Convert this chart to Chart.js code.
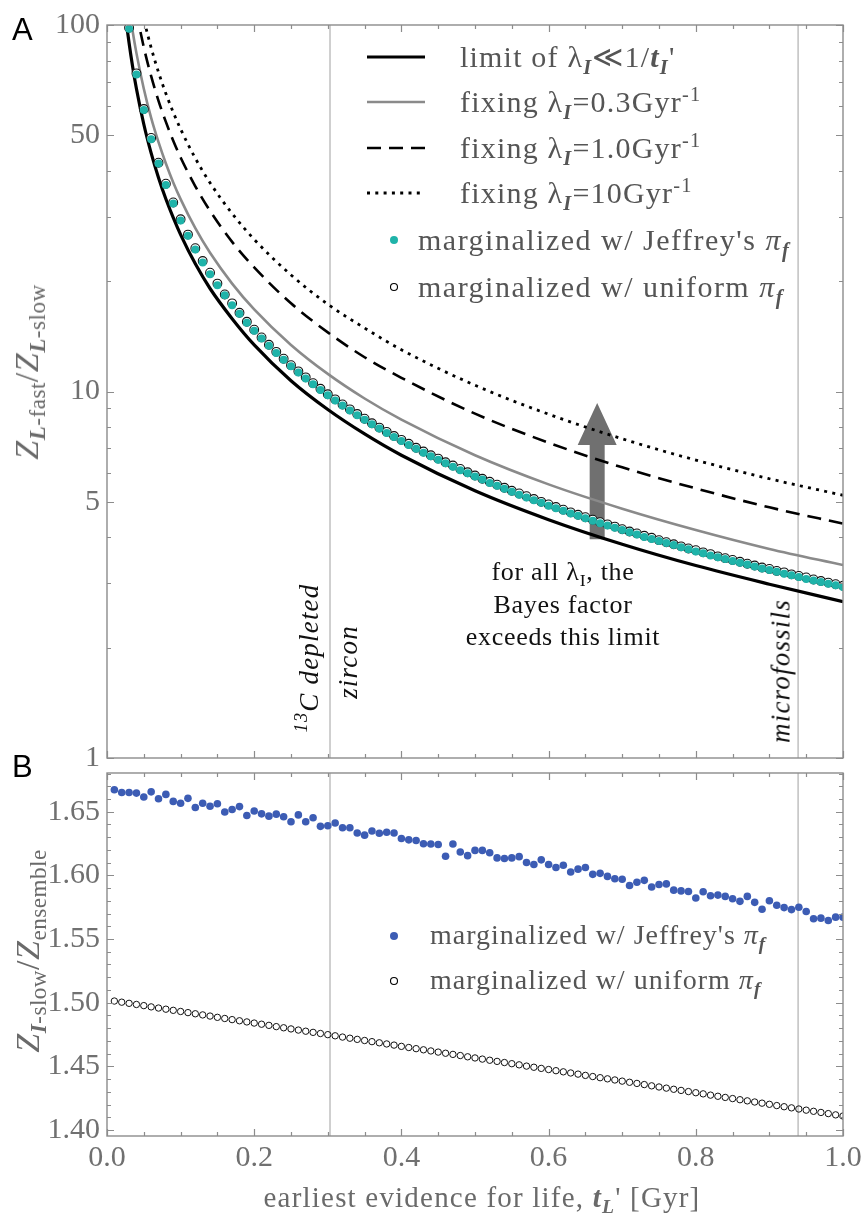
<!DOCTYPE html>
<html>
<head>
<meta charset="utf-8">
<script src="https://cdn.jsdelivr.net/npm/chart.js@4.4.1/dist/chart.umd.min.js"></script>
<style>
  body { margin: 0; background: #fff; }
  #page { position: relative; width: 863px; height: 1220px; overflow: hidden; font-family: "Liberation Serif", serif; }
  #topBox { position: absolute; left: 0; top: 0; width: 883px; height: 790px; }
  #botBox { position: absolute; left: 0; top: 748px; width: 883px; height: 472px; }
  .txt { position: absolute; white-space: nowrap; }
  .row { position: absolute; height: 34px; line-height: 34px; white-space: nowrap; }
  sub, sup { font-size: 0.68em; line-height: 0; }
  sub { vertical-align: -0.32em; }
  sup { vertical-align: 0.55em; }
  .bi { font-weight: bold; font-style: italic; }
  .panel { position: absolute; font-family: "Liberation Sans", sans-serif; font-size: 31px; color: #000; }
  .legend { font-size: 30px; letter-spacing: 1.2px; color: #555; }
  .vlabel { position: absolute; font-size: 27px; letter-spacing: 1.2px; font-style: italic; color: #111; white-space: nowrap; transform: translate(-50%, -50%) rotate(-90deg); }
  .ytitle { position: absolute; font-size: 34px; letter-spacing: 0.5px; color: #6a6a6a; white-space: nowrap; transform: translate(-50%, -50%) rotate(-90deg); }
</style>
</head>
<body>
<div id="page">
  <div id="topBox"><canvas id="topChart"></canvas></div>
  <div id="botBox"><canvas id="botChart"></canvas></div>

  <div class="panel" style="left:12px; top:12px;">A</div>
  <div class="panel" style="left:12px; top:749px;">B</div>

  <div class="ytitle" style="left:27px; top:372px;"><i>Z</i><sub><span class="bi">L</span>-fast</sub>/<i>Z</i><sub><span class="bi">L</span>-slow</sub></div>
  <div class="ytitle" style="left:28px; top:951px;"><i>Z</i><sub><span class="bi">I</span>-slow</sub>/<i>Z</i><sub>ensemble</sub></div>

  <!-- line legend, upper panel -->
  <div class="legend">
    <svg class="txt" style="left:366px; top:50px;" width="60" height="14"><line x1="1" y1="7" x2="59" y2="7" stroke="#000" stroke-width="3"/></svg>
    <svg class="txt" style="left:366px; top:95px;" width="60" height="14"><line x1="1" y1="7" x2="59" y2="7" stroke="#8a8a8a" stroke-width="2.6"/></svg>
    <svg class="txt" style="left:366px; top:141px;" width="60" height="14"><line x1="1" y1="7" x2="59" y2="7" stroke="#000" stroke-width="2.6" stroke-dasharray="14 8"/></svg>
    <svg class="txt" style="left:366px; top:186px;" width="60" height="14"><line x1="1" y1="7" x2="59" y2="7" stroke="#000" stroke-width="2.8" stroke-dasharray="3 5.3"/></svg>
    <div class="row" style="left:460px; top:40px;">limit of λ<sub><span class="bi">I</span></sub>≪1/<span class="bi">t</span><sub><span class="bi">I</span></sub>'</div>
    <div class="row" style="left:460px; top:85px;">fixing λ<sub><span class="bi">I</span></sub>=0.3Gyr<sup>-1</sup></div>
    <div class="row" style="left:460px; top:131px;">fixing λ<sub><span class="bi">I</span></sub>=1.0Gyr<sup>-1</sup></div>
    <div class="row" style="left:460px; top:176px;">fixing λ<sub><span class="bi">I</span></sub>=10Gyr<sup>-1</sup></div>
    <svg class="txt" style="left:387px; top:233px;" width="14" height="14"><circle cx="7" cy="7" r="4" fill="#1fb3a9"/></svg>
    <svg class="txt" style="left:387px; top:280px;" width="14" height="14"><circle cx="7" cy="7" r="3.5" fill="none" stroke="#000" stroke-width="1.1"/></svg>
    <div class="row" style="left:418px; top:223px; letter-spacing:1.5px;">marginalized w/ Jeffrey's <i>π<sub><b>f</b></sub></i></div>
    <div class="row" style="left:418px; top:270px; letter-spacing:1.5px;">marginalized w/ uniform <i>π<sub><b>f</b></sub></i></div>
  </div>

  <!-- point legend, lower panel -->
  <div class="legend" style="font-size:28px; letter-spacing:1px;">
    <svg class="txt" style="left:387px; top:929px;" width="14" height="14"><circle cx="7" cy="7" r="4" fill="#3c5cb4"/></svg>
    <svg class="txt" style="left:387px; top:974px;" width="14" height="14"><circle cx="7" cy="7" r="3.5" fill="none" stroke="#000" stroke-width="1.1"/></svg>
    <div class="row" style="left:430px; top:918px;">marginalized w/ Jeffrey's <i>π<sub><b>f</b></sub></i></div>
    <div class="row" style="left:430px; top:963px;">marginalized w/ uniform <i>π<sub><b>f</b></sub></i></div>
  </div>

  <div class="txt" style="left:563px; top:556px; transform:translateX(-50%); font-size:26px; letter-spacing:0.7px; line-height:32.5px; text-align:center; color:#111;">
    for all λ<sub>I</sub>, the<br>Bayes factor<br>exceeds this limit
  </div>

  <div class="vlabel" style="left:309px; top:658px;"><sup>13</sup>C depleted</div>
  <div class="vlabel" style="left:348px; top:662px;">zircon</div>
  <div class="vlabel" style="left:781px; top:671px;">microfossils</div>

  <div class="txt" style="left:482px; top:1197px; transform:translate(-50%, -50%); font-size:29px; letter-spacing:1.2px; color:#6a6a6a;">earliest evidence for life, <span class="bi">t<sub>L</sub></span>' [Gyr]</div>
</div>

<script>
// curves in the upper panel, sampled along t_L'
const tCurve = [0.02, 0.025, 0.03, 0.035, 0.04, 0.05, 0.06, 0.07, 0.08, 0.09, 0.1, 0.12, 0.14, 0.17, 0.2, 0.25, 0.3, 0.35, 0.4, 0.5, 0.6, 0.7, 0.8, 0.9, 1.0];
const limitCurve = [134, 107.2, 89.3, 76.6, 67.0, 53.6, 44.7, 38.3, 33.5, 29.8, 26.8, 22.3, 19.1, 15.8, 13.4, 10.7, 8.93, 7.66, 6.70, 5.36, 4.47, 3.83, 3.35, 2.98, 2.67];
const fix03Curve = [167.5, 134, 111.7, 95.7, 83.8, 67.0, 55.8, 47.9, 41.9, 37.2, 33.5, 27.9, 23.9, 19.7, 16.75, 13.4, 11.17, 9.57, 8.38, 6.70, 5.58, 4.79, 4.19, 3.72, 3.36];
const fix1Curve = [217.5, 174, 145, 124.3, 108.8, 87.0, 72.5, 62.1, 54.4, 48.3, 43.5, 36.3, 31.1, 25.6, 21.8, 17.4, 14.5, 12.4, 10.9, 8.70, 7.25, 6.21, 5.44, 4.83, 4.36];
const fix10Curve = [260, 208, 173, 148.6, 130, 104, 86.7, 74.3, 65.0, 57.8, 52.0, 43.3, 37.1, 30.6, 26.0, 20.8, 17.3, 14.9, 13.0, 10.4, 8.67, 7.43, 6.50, 5.78, 5.21];

// marginalized points, t_L' = 0.01 ... 1.00
const tEvidence = [
  0.01, 0.02, 0.03, 0.04, 0.05, 0.06, 0.07, 0.08, 0.09, 0.10,
  0.11, 0.12, 0.13, 0.14, 0.15, 0.16, 0.17, 0.18, 0.19, 0.20,
  0.21, 0.22, 0.23, 0.24, 0.25, 0.26, 0.27, 0.28, 0.29, 0.30,
  0.31, 0.32, 0.33, 0.34, 0.35, 0.36, 0.37, 0.38, 0.39, 0.40,
  0.41, 0.42, 0.43, 0.44, 0.45, 0.46, 0.47, 0.48, 0.49, 0.50,
  0.51, 0.52, 0.53, 0.54, 0.55, 0.56, 0.57, 0.58, 0.59, 0.60,
  0.61, 0.62, 0.63, 0.64, 0.65, 0.66, 0.67, 0.68, 0.69, 0.70,
  0.71, 0.72, 0.73, 0.74, 0.75, 0.76, 0.77, 0.78, 0.79, 0.80,
  0.81, 0.82, 0.83, 0.84, 0.85, 0.86, 0.87, 0.88, 0.89, 0.90,
  0.91, 0.92, 0.93, 0.94, 0.95, 0.96, 0.97, 0.98, 0.99, 1.00
];

// upper panel starts at t = 0.03
const jeffreysTop = [
  97.7, 73.3, 58.6, 48.8, 41.9, 36.6, 32.6, 29.3,
  26.6, 24.4, 22.5, 20.9, 19.5, 18.3, 17.2, 16.3, 15.4, 14.65,
  13.95, 13.32, 12.74, 12.21, 11.72, 11.27, 10.85, 10.46, 10.10, 9.77,
  9.45, 9.16, 8.88, 8.62, 8.37, 8.14, 7.92, 7.71, 7.51, 7.33,
  7.15, 6.98, 6.81, 6.66, 6.51, 6.37, 6.23, 6.10, 5.98, 5.86,
  5.75, 5.63, 5.53, 5.43, 5.33, 5.23, 5.14, 5.05, 4.97, 4.88,
  4.80, 4.73, 4.65, 4.58, 4.51, 4.44, 4.37, 4.31, 4.25, 4.19,
  4.13, 4.07, 4.01, 3.96, 3.91, 3.86, 3.81, 3.76, 3.71, 3.66,
  3.62, 3.57, 3.53, 3.49, 3.45, 3.41, 3.37, 3.33, 3.29, 3.26,
  3.22, 3.18, 3.15, 3.12, 3.08, 3.05, 3.02, 2.99, 2.96, 2.93
];
const uniformTop = [
  98.3, 73.8, 59.0, 49.2, 42.1, 36.9, 32.8, 29.5,
  26.8, 24.6, 22.7, 21.1, 19.7, 18.4, 17.4, 16.4, 15.5, 14.75,
  14.05, 13.41, 12.83, 12.29, 11.80, 11.35, 10.93, 10.54, 10.17, 9.83,
  9.52, 9.22, 8.94, 8.68, 8.43, 8.19, 7.97, 7.76, 7.56, 7.38,
  7.20, 7.02, 6.86, 6.70, 6.56, 6.41, 6.28, 6.15, 6.02, 5.90,
  5.78, 5.67, 5.57, 5.46, 5.36, 5.27, 5.18, 5.09, 5.00, 4.92,
  4.84, 4.76, 4.68, 4.61, 4.54, 4.47, 4.40, 4.34, 4.28, 4.21,
  4.15, 4.10, 4.04, 3.99, 3.93, 3.88, 3.83, 3.78, 3.73, 3.69,
  3.64, 3.60, 3.55, 3.51, 3.47, 3.43, 3.39, 3.35, 3.31, 3.28,
  3.24, 3.21, 3.17, 3.14, 3.11, 3.07, 3.04, 3.01, 2.98, 2.95
];

// lower panel
const jeffreysBot = [
  1.6672, 1.6651, 1.6651, 1.6646, 1.6615, 1.6656, 1.6602, 1.6636, 1.6581, 1.6566,
  1.6605, 1.6533, 1.6566, 1.6543, 1.6563, 1.6498, 1.6517, 1.6540, 1.6470, 1.6506,
  1.6483, 1.6465, 1.6481, 1.6460, 1.6421, 1.6475, 1.6421, 1.6452, 1.6385, 1.6390,
  1.6411, 1.6374, 1.6374, 1.6333, 1.6316, 1.6349, 1.6331, 1.6339, 1.6333, 1.6289,
  1.6279, 1.6274, 1.6248, 1.6246, 1.6243, 1.6150, 1.6246, 1.6184, 1.6155, 1.6196,
  1.6196, 1.6178, 1.6137, 1.6132, 1.6137, 1.6147, 1.6101, 1.6085, 1.6122, 1.6085,
  1.6062, 1.6080, 1.6026, 1.6049, 1.6062, 1.6008, 1.6016, 1.5992, 1.5974, 1.5969,
  1.5920, 1.5946, 1.5961, 1.5909, 1.5928, 1.5933, 1.5884, 1.5878, 1.5873, 1.5822,
  1.5871, 1.5840, 1.5845, 1.5835, 1.5816, 1.5796, 1.5835, 1.5788, 1.5734, 1.5801,
  1.5765, 1.5747, 1.5731, 1.5750, 1.5716, 1.5659, 1.5664, 1.5646, 1.5672, 1.5672
];
const uniformBot = [
  1.5013, 1.5004, 1.4995, 1.4986, 1.4977, 1.4967, 1.4958, 1.4949, 1.4940, 1.4931,
  1.4922, 1.4913, 1.4904, 1.4895, 1.4885, 1.4876, 1.4867, 1.4858, 1.4849, 1.4840,
  1.4831, 1.4822, 1.4812, 1.4803, 1.4794, 1.4785, 1.4776, 1.4767, 1.4758, 1.4749,
  1.4740, 1.4730, 1.4721, 1.4712, 1.4703, 1.4694, 1.4685, 1.4676, 1.4667, 1.4657,
  1.4648, 1.4639, 1.4630, 1.4621, 1.4612, 1.4603, 1.4594, 1.4585, 1.4575, 1.4566,
  1.4557, 1.4548, 1.4539, 1.4530, 1.4521, 1.4512, 1.4502, 1.4493, 1.4484, 1.4475,
  1.4466, 1.4457, 1.4448, 1.4439, 1.4429, 1.4420, 1.4411, 1.4402, 1.4393, 1.4384,
  1.4375, 1.4366, 1.4357, 1.4347, 1.4338, 1.4329, 1.4320, 1.4311, 1.4302, 1.4293,
  1.4284, 1.4274, 1.4265, 1.4256, 1.4247, 1.4238, 1.4229, 1.4220, 1.4211, 1.4202,
  1.4192, 1.4183, 1.4174, 1.4165, 1.4156, 1.4147, 1.4138, 1.4129, 1.4119, 1.4110
];

// evidence markers (zircon, microfossils) and the Bayes-factor arrow
const evidenceLines = [0.303, 0.939];
const arrowT = 0.666;
const arrowFrom = 3.95;
const arrowTo = 9.3;

// ticks
const xMajor = [0, 0.2, 0.4, 0.6, 0.8, 1.0];
const xMinor = [0, 0.05, 0.1, 0.15, 0.2, 0.25, 0.3, 0.35, 0.4, 0.45, 0.5, 0.55, 0.6, 0.65, 0.7, 0.75, 0.8, 0.85, 0.9, 0.95, 1.0];
const yTopMajor = [1, 5, 10, 50, 100];
const yTopMinor = [2, 3, 4, 6, 7, 8, 9, 20, 30, 40, 60, 70, 80, 90];
const yBotMajor = [1.40, 1.45, 1.50, 1.55, 1.60, 1.65];
const yBotMinor = [1.41, 1.42, 1.43, 1.44, 1.46, 1.47, 1.48, 1.49, 1.51, 1.52, 1.53, 1.54, 1.56, 1.57, 1.58, 1.59, 1.61, 1.62, 1.63, 1.64, 1.66, 1.67, 1.68];

const pairs = (xs, ys) => ys.map((v, i) => ({ x: xs[i], y: v }));
const tTop = tEvidence.slice(2);

const tickFont = { family: "Liberation Serif", size: 30 };
const tickColor = "#707070";

// frame with inward ticks on all four sides
const frameTicks = {
  id: "frameTicks",
  afterDraw(chart, args, opts) {
    const { ctx, chartArea: a, scales } = chart;
    const x = scales.x, y = scales.y;
    ctx.save();
    ctx.strokeStyle = "#8c8c8c";
    ctx.lineWidth = 1.2;
    ctx.beginPath();
    const seg = (x1, y1, x2, y2) => { ctx.moveTo(x1, y1); ctx.lineTo(x2, y2); };
    xMinor.forEach(v => {
      const px = Math.round(x.getPixelForValue(v)) + 0.5;
      const len = xMajor.some(m => Math.abs(m - v) < 1e-9) ? 7 : 4;
      seg(px, a.bottom, px, a.bottom - len);
      seg(px, a.top, px, a.top + len);
    });
    opts.yMajor.forEach(v => {
      const py = Math.round(y.getPixelForValue(v)) + 0.5;
      seg(a.left, py, a.left + 7, py);
      seg(a.right, py, a.right - 7, py);
    });
    opts.yMinor.forEach(v => {
      const py = Math.round(y.getPixelForValue(v)) + 0.5;
      seg(a.left, py, a.left + 4, py);
      seg(a.right, py, a.right - 4, py);
    });
    ctx.stroke();
    ctx.lineWidth = 1.4;
    ctx.strokeRect(a.left, a.top, a.right - a.left, a.bottom - a.top);
    ctx.restore();
  }
};

// vertical evidence lines and the arrow, drawn under the data
const underlay = {
  id: "underlay",
  beforeDatasetsDraw(chart, args, opts) {
    const { ctx, chartArea: a, scales } = chart;
    const x = scales.x, y = scales.y;
    ctx.save();
    ctx.strokeStyle = "#c4c4c4";
    ctx.lineWidth = 1.6;
    evidenceLines.forEach(v => {
      const px = x.getPixelForValue(v);
      ctx.beginPath();
      ctx.moveTo(px, a.top);
      ctx.lineTo(px, a.bottom);
      ctx.stroke();
    });
    if (opts.arrow) {
      const px = x.getPixelForValue(arrowT);
      const yb = y.getPixelForValue(arrowFrom);
      const yt = y.getPixelForValue(arrowTo);
      const shaft = 7.5, head = 19.5, headLen = 42;
      ctx.fillStyle = "#707070";
      ctx.beginPath();
      ctx.moveTo(px - shaft, yb);
      ctx.lineTo(px - shaft, yt + headLen);
      ctx.lineTo(px - head, yt + headLen);
      ctx.lineTo(px, yt);
      ctx.lineTo(px + head, yt + headLen);
      ctx.lineTo(px + shaft, yt + headLen);
      ctx.lineTo(px + shaft, yb);
      ctx.closePath();
      ctx.fill();
    }
    ctx.restore();
  }
};

const lineSet = (data, color, width, dash) => ({
  data: pairs(tCurve, data),
  borderColor: color,
  borderWidth: width,
  borderDash: dash || [],
  pointRadius: 0,
  fill: false,
  cubicInterpolationMode: "monotone"
});

new Chart(document.getElementById("topChart"), {
  type: "line",
  data: {
    datasets: [
      { data: pairs(tTop, jeffreysTop), showLine: false, pointRadius: 4, pointBackgroundColor: "#1fb3a9", pointBorderWidth: 0 },
      { data: pairs(tTop, uniformTop), showLine: false, pointRadius: 4.4, pointBackgroundColor: "#ffffff", pointBorderColor: "#111", pointBorderWidth: 1.1 },
      lineSet(limitCurve, "#000", 3.2),
      lineSet(fix03Curve, "#8a8a8a", 2.6),
      lineSet(fix1Curve, "#000", 2.6, [14, 8]),
      lineSet(fix10Curve, "#000", 2.8, [3, 5.3])
    ]
  },
  options: {
    responsive: true,
    maintainAspectRatio: false,
    animation: false,
    layout: { padding: { top: 22, right: 40, left: 0, bottom: 0 } },
    plugins: {
      legend: { display: false },
      tooltip: { enabled: false },
      frameTicks: { yMajor: yTopMajor, yMinor: yTopMinor },
      underlay: { arrow: true }
    },
    scales: {
      x: {
        type: "linear", min: 0, max: 1,
        grid: { display: false },
        border: { display: false },
        ticks: { display: false },
        afterFit: s => { s.height = 32; }
      },
      y: {
        type: "logarithmic", min: 1, max: 100,
        grid: { display: false, drawTicks: false },
        border: { display: false },
        ticks: { font: tickFont, color: tickColor, padding: 7, autoSkip: false, callback: v => String(v) },
        afterBuildTicks: s => { s.ticks = yTopMajor.map(v => ({ value: v })); },
        afterFit: s => { s.width = 107; }
      }
    }
  },
  plugins: [underlay, frameTicks]
});

new Chart(document.getElementById("botChart"), {
  type: "line",
  data: {
    datasets: [
      { data: pairs(tEvidence, jeffreysBot), showLine: false, pointRadius: 3.8, pointBackgroundColor: "#3c5cb4", pointBorderWidth: 0 },
      { data: pairs(tEvidence, uniformBot), showLine: false, pointRadius: 3.2, pointBackgroundColor: "rgba(0,0,0,0)", pointBorderColor: "#111", pointBorderWidth: 1 }
    ]
  },
  options: {
    responsive: true,
    maintainAspectRatio: false,
    animation: false,
    layout: { padding: { top: 20, right: 40, left: 0, bottom: 0 } },
    plugins: {
      legend: { display: false },
      tooltip: { enabled: false },
      frameTicks: { yMajor: yBotMajor, yMinor: yBotMinor },
      underlay: { arrow: false }
    },
    scales: {
      x: {
        type: "linear", min: 0, max: 1,
        grid: { display: false, drawTicks: false },
        border: { display: false },
        ticks: { font: tickFont, color: tickColor, padding: 4, autoSkip: false, maxRotation: 0, callback: v => v.toFixed(1) },
        afterBuildTicks: s => { s.ticks = xMajor.map(v => ({ value: v })); },
        afterFit: s => { s.height = 84; }
      },
      y: {
        type: "linear", min: 1.3953, max: 1.6804,
        grid: { display: false, drawTicks: false },
        border: { display: false },
        ticks: { font: tickFont, color: tickColor, padding: 7, autoSkip: false, callback: v => v.toFixed(2) },
        afterBuildTicks: s => { s.ticks = yBotMajor.map(v => ({ value: v })); },
        afterFit: s => { s.width = 107; }
      }
    }
  },
  plugins: [underlay, frameTicks]
});
</script>
</body>
</html>
